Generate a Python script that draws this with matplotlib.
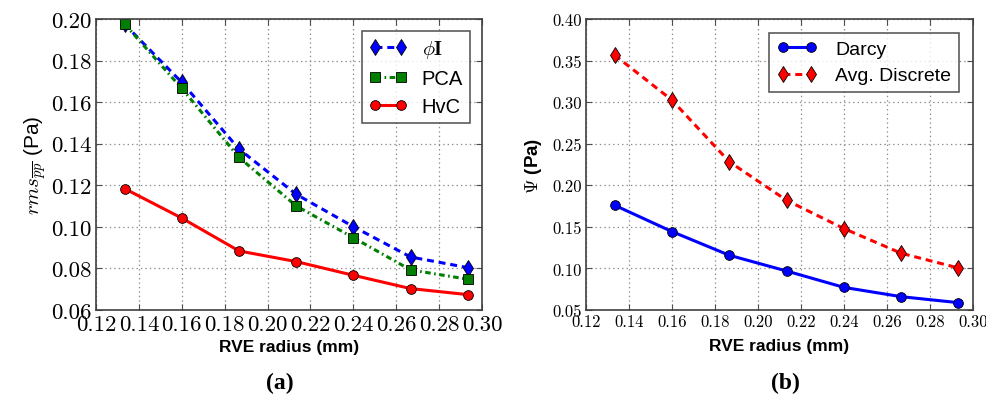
import matplotlib
matplotlib.use("Agg")
import matplotlib.pyplot as plt

plt.rcParams["mathtext.fontset"] = "cm"
plt.rcParams["lines.scale_dashes"] = False

# RVE radii (mm)
radius = [0.1333, 0.16, 0.1867, 0.2133, 0.24, 0.2667, 0.2933]

# (a) rms of pressure (Pa)
phi_i = [0.1975, 0.1695, 0.1374, 0.1157, 0.1001, 0.0855, 0.0804]
pca = [0.1976, 0.1666, 0.1334, 0.1101, 0.0948, 0.0793, 0.0748]
hvc = [0.1184, 0.1042, 0.0884, 0.0833, 0.0767, 0.0703, 0.0674]

# (b) Psi (Pa)
darcy = [0.1760, 0.1443, 0.1158, 0.0969, 0.0772, 0.0660, 0.0588]
avg_discrete = [0.3566, 0.3024, 0.2282, 0.1820, 0.1479, 0.1182, 0.1005]

xticks_a = [0.12, 0.14, 0.16, 0.18, 0.20, 0.22, 0.24, 0.26, 0.28, 0.30]
yticks_a = [0.06, 0.08, 0.10, 0.12, 0.14, 0.16, 0.18, 0.20]
xticks_b = xticks_a
yticks_b = [0.05, 0.10, 0.15, 0.20, 0.25, 0.30, 0.35, 0.40]

fig = plt.figure(figsize=(9.87, 4.02), dpi=100)
ax1 = fig.add_axes([0.0973, 0.2264, 0.391, 0.7239])
ax2 = fig.add_axes([0.5937, 0.2264, 0.392, 0.7239])

sans = ["Liberation Sans", "DejaVu Sans"]
dash = (0, (5, 3.5))
dashdot = (0, (4, 2.5, 1.2, 2.5))


def style_axes(ax, xt, yt, tick_size):
    ax.set_xlim(xt[0], xt[-1])
    ax.set_ylim(yt[0], yt[-1])
    ax.set_xticks(xt)
    ax.set_yticks(yt)
    ax.set_xticklabels([f"{v:.2f}" for v in xt], fontfamily="cmr10", fontsize=tick_size)
    ax.set_yticklabels([f"{v:.2f}" for v in yt], fontfamily="cmr10", fontsize=tick_size)
    ax.tick_params(direction="in", top=True, right=True, length=4, width=0.8,
                   color="0.3", pad=3)
    ax.grid(True, color="0.55", linestyle=(0, (1, 2.2)), linewidth=0.9)
    ax.set_axisbelow(True)
    for s in ax.spines.values():
        s.set_linewidth(1.2)
        s.set_color("0.25")


# (a)
ax1.plot(radius, phi_i, color="#0000ff", linestyle=dash, linewidth=2.2,
         marker="d", markersize=8.5, markeredgecolor="k", markeredgewidth=0.6,
         label=r"$\phi\mathbf{I}$")
ax1.plot(radius, pca, color="#007f00", linestyle=dashdot, linewidth=2.2,
         marker="s", markersize=7, markeredgecolor="k", markeredgewidth=0.6,
         label="PCA")
ax1.plot(radius, hvc, color="#ff0000", linestyle="-", linewidth=2.2,
         marker="o", markersize=7, markeredgecolor="k", markeredgewidth=0.6,
         label="HvC")
style_axes(ax1, xticks_a, yticks_a, 16.5)
ax1.set_xlabel("RVE radius (mm)", fontfamily=sans, fontweight="bold", fontsize=12.5,
               labelpad=4)
ax1.set_ylabel(r"$rms_{\overline{pp}}$ (Pa)", fontfamily=sans, fontsize=15,
               labelpad=2)
leg1 = ax1.legend(loc="upper right", numpoints=2, prop={"family": sans, "size": 14.5},
                  frameon=True, fancybox=False, edgecolor="0.2", borderpad=0.35,
                  handlelength=1.9, handletextpad=0.7, labelspacing=0.45,
                  borderaxespad=0.6)
leg1.get_frame().set_linewidth(1.2)

# (b)
ax2.plot(radius, darcy, color="#0000ff", linestyle="-", linewidth=2.2,
         marker="o", markersize=7, markeredgecolor="k", markeredgewidth=0.6,
         label="Darcy")
ax2.plot(radius, avg_discrete, color="#ff0000", linestyle=dash, linewidth=2.2,
         marker="d", markersize=8.5, markeredgecolor="k", markeredgewidth=0.6,
         label="Avg. Discrete")
style_axes(ax2, xticks_b, yticks_b, 12)
ax2.set_xlabel("RVE radius (mm)", fontfamily=sans, fontweight="bold", fontsize=12.5,
               labelpad=6)
ax2.set_ylabel(r"$\Psi$ (Pa)", fontfamily=sans, fontweight="bold", fontsize=13.5,
               labelpad=6)
leg2 = ax2.legend(loc="upper right", numpoints=2, prop={"family": sans, "size": 14},
                  frameon=True, fancybox=False, edgecolor="0.2", borderpad=0.4,
                  handlelength=2.05, handletextpad=0.95, labelspacing=0.45,
                  borderaxespad=0.7)
leg2.get_frame().set_linewidth(1.2)

fig.text(0.283, 0.045, "(a)", ha="center", va="center", fontfamily="Liberation Serif",
         fontweight="bold", fontsize=17)
fig.text(0.796, 0.045, "(b)", ha="center", va="center", fontfamily="Liberation Serif",
         fontweight="bold", fontsize=17)

fig.savefig("out.png", dpi=100)
